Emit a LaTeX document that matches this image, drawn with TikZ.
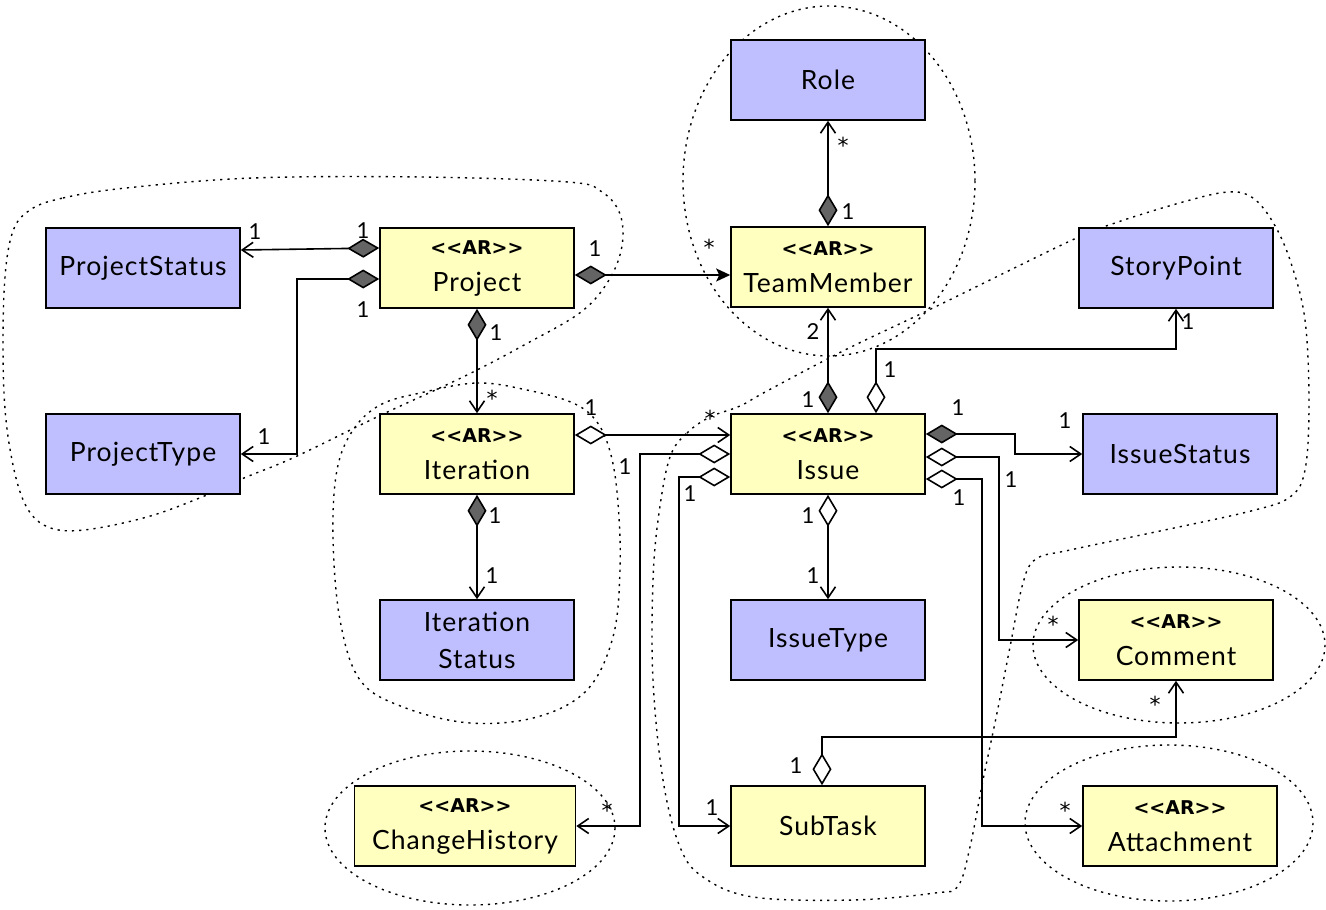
\documentclass[tikz,border=0pt]{standalone}
\usepackage{fontspec}
\setmainfont{Lato}[LetterSpace=4]
\newfontfamily\arfont{DejaVu Sans}
\usetikzlibrary{arrows.meta,shapes.geometric}
\definecolor{yel}{RGB}{255,255,192}
\definecolor{blu}{RGB}{191,191,255}
\definecolor{dgray}{RGB}{100,100,100}
\newcommand\arhead{{\arfont\fontsize{19}{20}\selectfont\bfseries <\kern0pt<AR>\kern0pt>}}
\tikzset{
  box/.style={draw, line width=1.6pt, minimum width=194pt, minimum height=80pt,
    inner sep=0pt, align=center, font=\fontsize{26.5}{37}\selectfont},
  ent/.style={box, fill=blu},
  agg/.style={box, fill=yel},
  mult/.style={font=\fontsize{22}{24}\selectfont, inner sep=0pt},
  star/.style={font=\arfont\fontsize{22}{24}\selectfont, inner sep=0pt},
  fd/.style={line width=1.6pt, {Diamond[length=32pt,width=19pt,fill=dgray]}-{Straight Barb[length=11pt,width=15pt]}},
  od/.style={line width=1.6pt, {Diamond[length=32pt,width=19pt,fill=white]}-{Straight Barb[length=11pt,width=15pt]}},
  fdst/.style={line width=1.6pt, {Diamond[length=32pt,width=19pt,fill=dgray]}-{Stealth[length=14pt,width=13pt,inset=3pt]}},
  region/.style={line width=1.4pt, dash pattern=on 2.2pt off 5pt},
}
\begin{document}
\begin{tikzpicture}[x=1pt,y=-1pt]
\useasboundingbox (0,0) rectangle (1326,910);
% regions
\draw[region] plot[smooth cycle, tension=0.6] coordinates {(30,210) (63,198) (126,188) (253,178) (421,177) (568,182) (602,192) (620,214) (622,246) (609,280) (581,312) (526,344) (463,377) (379,416) (295,457) (244,478) (202,497) (147,517) (84,530) (48,527) (26,506) (12,460) (4,393) (4,293) (12,234)};
\draw[region] plot[smooth cycle, tension=0.6] coordinates {(420,393) (477,383) (527,390) (573,403) (597,422) (611,455) (618,503) (620,570) (613,637) (587,690) (537,717) (470,723) (403,707) (360,680) (340,620) (333,537) (337,470) (353,430) (380,405)};
\draw[region] (829,181) ellipse [x radius=146, y radius=175];
\draw[region] plot[smooth cycle, tension=0.6] coordinates {(670,457) (687,433) (710,417) (740,406) (767,391) (845,350) (935,307) (1070,241) (1115,223) (1183,202) (1228,192) (1253,198) (1274,224) (1291,263) (1305,320) (1309,403) (1305,470) (1290,497) (1251,511) (1160,531) (1070,550) (1036,559) (1023,583) (1010,647) (997,713) (983,780) (970,847) (958,886) (935,893) (853,900) (753,897) (703,877) (680,847) (663,780) (653,680) (653,580) (659,513)};
\draw[region] (1179,645) ellipse [x radius=146, y radius=78];
\draw[region] (1169,823) ellipse [x radius=144, y radius=78];
\draw[region] (470,828) ellipse [x radius=145, y radius=77];
% boxes
\node[ent] (role) at (828,80) {Role};
\node[agg] (tm) at (828,267) {\arhead\\TeamMember};
\node[agg] (project) at (477,268) {\arhead\\Project};
\node[ent] (pstatus) at (143,268) {ProjectStatus};
\node[ent] (ptype) at (143,454) {ProjectType};
\node[agg] (iter) at (477,454) {\arhead\\Iteration};
\node[ent] (istat) at (477,640) {Iteration\\Status};
\node[agg] (issue) at (828,454) {\arhead\\Issue};
\node[ent] (sp) at (1176,268) {StoryPoint};
\node[ent] (isstatus) at (1180,454) {IssueStatus};
\node[ent] (itype) at (828,640) {IssueType};
\node[agg] (comment) at (1176,640) {\arhead\\Comment};
\node[agg] (subtask) at (828,826) {SubTask};
\node[agg, minimum width=221pt] (chist) at (465,826) {\arhead\\ChangeHistory};
\node[agg] (attach) at (1180,826) {\arhead\\Attachment};
% bend points
\coordinate (b2) at (297,454);
\coordinate (b7) at (876,349);
\coordinate (b9) at (640,826);
\coordinate (b10) at (679,826);
\coordinate (b11) at (1015,454);
\coordinate (b12) at (999,640);
\coordinate (b13) at (982,826);
\coordinate (b16) at (1176,737);
% connectors
\draw[fd] (project.west |- 0,248) -- (pstatus.east |- 0,250);
\draw[fd] (project.west |- 0,279) -| (b2) -- (ptype.east);
\draw[fdst] (project.east |- 0,275) -- (tm.west |- 0,275);
\draw[fd] (project.south) -- (iter.north);
\draw[fd] (tm.north) -- (role.south);
\draw[fd] (issue.north) -- (tm.south);
\draw[od] (issue.north -| 876,0) -- (b7) -| (sp.south);
\draw[od] (iter.east |- 0,435) -- (issue.west |- 0,435);
\draw[od] (issue.west |- 0,454) -| (b9) -- (chist.east);
\draw[od] (issue.west |- 0,477) -| (b10) -- (subtask.west);
\draw[fd] (issue.east |- 0,434) -| (b11) -- (isstatus.west);
\draw[od] (issue.east |- 0,457) -| (b12) -- (comment.west);
\draw[od] (issue.east |- 0,479) -| (b13) -- (attach.west);
\draw[od] (issue.south) -- (itype.north);
\draw[fd] (iter.south) -- (istat.north);
\draw[od] (subtask.north -| 822,0) -- (822,737) -- (b16) -- (comment.south);
% multiplicities
\node[mult] (m1a) at (255,232) {1};
\node[mult] (m1b) at (363,231) {1};
\node[mult] (m2a) at (363,310) {1};
\node[mult] (m2b) at (264,437) {1};
\node[mult] (m3a) at (595,249) {1};
\node[star] (m3b) at (709,247) {*};
\node[mult] (m4a) at (496,333) {1};
\node[star] (m4b) at (492,398) {*};
\node[star] (m5a) at (843,145) {*};
\node[mult] (m5b) at (848,212) {1};
\node[mult] (m6a) at (813,332) {2};
\node[mult] (m6b) at (808,400) {1};
\node[mult] (m7a) at (890,370) {1};
\node[mult] (m7b) at (1188,322) {1};
\node[mult] (m8a) at (591,408) {1};
\node[star] (m8b) at (710,418) {*};
\node[mult] (m9a) at (625,467) {1};
\node[star] (m9b) at (607,810) {*};
\node[mult] (m10a) at (690,494) {1};
\node[mult] (m10b) at (712,808) {1};
\node[mult] (m11a) at (958,408) {1};
\node[mult] (m11b) at (1065,421) {1};
\node[mult] (m12a) at (1011,480) {1};
\node[star] (m12b) at (1053,624) {*};
\node[mult] (m13a) at (959,498) {1};
\node[star] (m13b) at (1065,810) {*};
\node[mult] (m14a) at (808,516) {1};
\node[mult] (m14b) at (813,576) {1};
\node[mult] (m15a) at (495,516) {1};
\node[mult] (m15b) at (492,576) {1};
\node[mult] (m16a) at (796,766) {1};
\node[star] (m16b) at (1155,704) {*};
\end{tikzpicture}
\end{document}
